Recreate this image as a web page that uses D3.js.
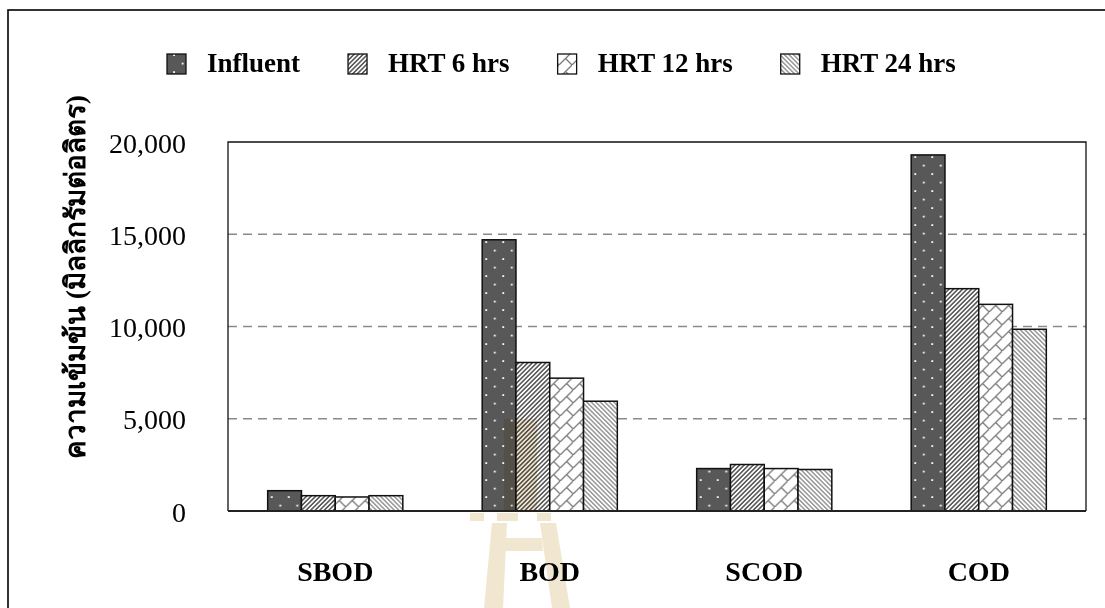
<!DOCTYPE html>
<html>
<head>
<meta charset="utf-8">
<script src="https://cdn.jsdelivr.net/npm/d3@7/dist/d3.min.js"></script>
<style>
  html, body { margin: 0; padding: 0; background: #fff; }
  svg { display: block; }
  text { font-family: "Liberation Serif", "Times New Roman", serif; fill: #000; }
</style>
</head>
<body>
<svg id="chart" width="1105" height="608"></svg>
<script>
// Chart data
const categories = ["SBOD", "BOD", "SCOD", "COD"];
const seriesNames = ["Influent", "HRT 6 hrs", "HRT 12 hrs", "HRT 24 hrs"];
const influent = [1100, 14700, 2300, 19300];
const hrt6 = [830, 8050, 2520, 12050];
const hrt12 = [760, 7200, 2300, 11200];
const hrt24 = [830, 5950, 2250, 9850];
const yTicks = [0, 5000, 10000, 15000, 20000];
const yLabel = "ความเข้มข้น (มิลลิกรัมต่อลิตร)";

const seriesValues = [influent, hrt6, hrt12, hrt24];
const patternIds = ["pInf", "pH6", "pH12", "pH24"];

const svg = d3.select("#chart");
const W = 1105, H = 608;
const plot = { left: 228, right: 1086, top: 142, bottom: 511 };

// Fill patterns
const defs = svg.append("defs");
const pInf = defs.append("pattern").attr("id", "pInf")
  .attr("patternUnits", "userSpaceOnUse").attr("width", 17).attr("height", 17);
pInf.append("rect").attr("width", 17).attr("height", 17).attr("fill", "#585858");
pInf.append("rect").attr("x", 3.2).attr("y", 3.2).attr("width", 1.8).attr("height", 1.8).attr("fill", "#fff");
pInf.append("rect").attr("x", 11.7).attr("y", 11.7).attr("width", 1.8).attr("height", 1.8).attr("fill", "#fff");

const pH6 = defs.append("pattern").attr("id", "pH6")
  .attr("patternUnits", "userSpaceOnUse").attr("width", 3.2).attr("height", 3.2)
  .attr("patternTransform", "rotate(45)");
pH6.append("rect").attr("width", 3.2).attr("height", 3.2).attr("fill", "#fff");
pH6.append("line").attr("x1", 0.8).attr("y1", 0).attr("x2", 0.8).attr("y2", 3.2)
  .attr("stroke", "#5a5a5a").attr("stroke-width", 1.6);

const pH12 = defs.append("pattern").attr("id", "pH12")
  .attr("patternUnits", "userSpaceOnUse").attr("width", 13).attr("height", 13);
pH12.append("rect").attr("width", 13).attr("height", 13).attr("fill", "#fff");
pH12.append("path").attr("d", "M-1,14 L14,-1 M6.5,6.5 L14,14 M-1,-1 L0,0")
  .attr("stroke", "#7a7a7a").attr("stroke-width", 1.3).attr("fill", "none");

const pH24 = defs.append("pattern").attr("id", "pH24")
  .attr("patternUnits", "userSpaceOnUse").attr("width", 3.2).attr("height", 3.2)
  .attr("patternTransform", "rotate(-45)");
pH24.append("rect").attr("width", 3.2).attr("height", 3.2).attr("fill", "#fff");
pH24.append("line").attr("x1", 0.8).attr("y1", 0).attr("x2", 0.8).attr("y2", 3.2)
  .attr("stroke", "#707070").attr("stroke-width", 1.1);

// Outer frame
svg.append("rect").attr("x", 8).attr("y", 10).attr("width", W + 20).attr("height", H + 20)
  .attr("fill", "none").attr("stroke", "#000").attr("stroke-width", 1.6);

// Scales
const x = d3.scaleBand().domain(categories)
  .range([plot.left, plot.right]).paddingInner(0.37).paddingOuter(0.185);
const xs = d3.scaleBand().domain(seriesNames).range([0, x.bandwidth()]);
const y = d3.scaleLinear().domain([0, 20000]).range([plot.bottom, plot.top]);

// Dashed gridlines
svg.append("g").selectAll("line").data(yTicks.filter(t => t > 0 && t < 20000)).join("line")
  .attr("x1", plot.left).attr("x2", plot.right)
  .attr("y1", d => y(d)).attr("y2", d => y(d))
  .attr("stroke", "#8a8a8a").attr("stroke-width", 1.5).attr("stroke-dasharray", "9,6");

// Bars
const groups = svg.append("g").selectAll("g").data(categories).join("g")
  .attr("transform", d => `translate(${x(d)},0)`);
groups.selectAll("rect")
  .data((c, ci) => seriesNames.map((s, si) => ({ s, si, v: seriesValues[si][ci] })))
  .join("rect")
  .attr("x", d => xs(d.s)).attr("width", xs.bandwidth())
  .attr("y", d => y(d.v)).attr("height", d => y(0) - y(d.v))
  .attr("fill", d => `url(#${patternIds[d.si]})`)
  .attr("stroke", "#111").attr("stroke-width", 1.5);

// Plot frame: top, left, right thin lines; heavier baseline
svg.append("path")
  .attr("d", `M${plot.left},${plot.bottom} V${plot.top} H${plot.right} V${plot.bottom}`)
  .attr("fill", "none").attr("stroke", "#111").attr("stroke-width", 1.3);
svg.append("line").attr("x1", plot.left).attr("x2", plot.right)
  .attr("y1", plot.bottom).attr("y2", plot.bottom)
  .attr("stroke", "#222").attr("stroke-width", 2.2);

// Y axis tick labels
const yAxis = d3.axisLeft(y).tickValues(yTicks).tickSize(0).tickPadding(0)
  .tickFormat(d3.format(","));
const gy = svg.append("g").attr("transform", "translate(186,0)").call(yAxis);
gy.select(".domain").remove();
gy.selectAll("text").attr("font-size", 28).attr("font-family", "Liberation Serif, serif")
  .attr("fill", "#000").attr("dy", "0.36em");

// X category labels
const xAxis = d3.axisBottom(x).tickSize(0).tickPadding(0);
const gx = svg.append("g").attr("transform", `translate(0,${plot.bottom})`).call(xAxis);
gx.select(".domain").remove();
gx.selectAll("text").attr("font-size", 28).attr("font-weight", "bold")
  .attr("font-family", "Liberation Serif, serif").attr("fill", "#000")
  .attr("y", 70).attr("dy", 0);

// Y axis title
svg.append("text")
  .attr("transform", "translate(85,277) rotate(-90)")
  .attr("text-anchor", "middle")
  .attr("font-size", 28).attr("font-weight", "bold")
  .attr("textLength", 364).attr("lengthAdjust", "spacingAndGlyphs")
  .text(yLabel);

// Legend
const legend = svg.append("g");
let lx = 167;
seriesNames.forEach((name, i) => {
  legend.append("rect").attr("x", lx).attr("y", 54).attr("width", 19).attr("height", 20)
    .attr("fill", `url(#${patternIds[i]})`).attr("stroke", "#111").attr("stroke-width", 1.3);
  const t = legend.append("text").attr("x", lx + 40).attr("y", 72)
    .attr("font-size", 27).attr("font-weight", "bold").text(name);
  lx = lx + 40 + t.node().getComputedTextLength() + 48;
});

// Faint institutional watermark near the bottom centre
const wm = svg.append("g").style("mix-blend-mode", "multiply").attr("fill", "#f1e6d0");
wm.append("rect").attr("x", 483).attr("y", 419).attr("width", 21).attr("height", 92)
  .attr("fill", "#fff").attr("opacity", 0.15).style("mix-blend-mode", "normal");
wm.append("rect").attr("x", 504).attr("y", 419).attr("width", 33).attr("height", 92);
wm.append("rect").attr("x", 470).attr("y", 513).attr("width", 14).attr("height", 8);
wm.append("rect").attr("x", 497).attr("y", 513).attr("width", 21).attr("height", 8);
wm.append("rect").attr("x", 537).attr("y", 513).attr("width", 14).attr("height", 8);
wm.append("path").attr("d", "M492,523 L507,523 L503,608 L484,608 Z");
wm.append("path").attr("d", "M540,523 L556,523 L570,608 L552,608 Z");
wm.append("path").attr("d", "M505,538 L542,538 L543,551 L504,551 Z");
</script>
</body>
</html>
